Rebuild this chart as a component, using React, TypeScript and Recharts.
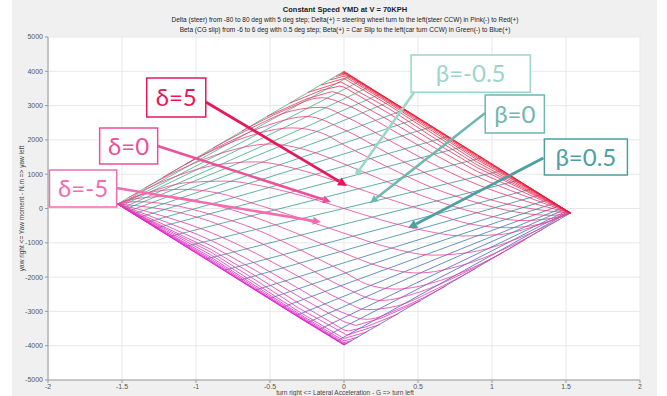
import React from 'react'
import { LineChart, Line, XAxis, YAxis, CartesianGrid, ReferenceArea, ReferenceLine, Label } from 'recharts'

const xTicks = [-2, -1.5, -1, -0.5, 0, 0.5, 1, 1.5, 2]
const yTicks = [-5000, -4000, -3000, -2000, -1000, 0, 1000, 2000, 3000, 4000, 5000]

// steering angle of each constant-delta curve (deg), pink(-) to red(+)
const deltaSteps = [-80, -75, -70, -65, -60, -55, -50, -45, -40, -35, -30, -25, -20, -15, -10, -5, 0,
  5, 10, 15, 20, 25, 30, 35, 40, 45, 50, 55, 60, 65, 70, 75, 80]

// constant-delta curves as [lateral acc G, yaw moment N.m]
const deltaCurves: number[][][] = [
  [[-1.53, 130], [-1.2, -760], [-0.9, -1570], [-0.6, -2380], [-0.3, -3190], [0, -3980]],
  [[-1.53, 130], [-1.2, -755], [-0.9, -1558], [-0.6, -2372], [-0.3, -3182], [0, -3975], [0.006, -3970]],
  [[-1.53, 130], [-1.2, -745], [-0.9, -1540], [-0.6, -2360], [-0.3, -3170], [0, -3965], [0.015, -3945]],
  [[-1.53, 130], [-1.2, -730], [-0.9, -1510], [-0.6, -2340], [-0.3, -3150], [0, -3945], [0.031, -3905]],
  [[-1.53, 130], [-1.2, -710], [-0.9, -1470], [-0.6, -2300], [-0.3, -3120], [0, -3910], [0.054, -3850]],
  [[-1.53, 130], [-1.2, -690], [-0.9, -1420], [-0.6, -2250], [-0.3, -3080], [0, -3860], [0.092, -3750]],
  [[-1.53, 130], [-1.2, -650], [-0.9, -1350], [-0.6, -2180], [-0.3, -3020], [0, -3790], [0.153, -3600]],
  [[-1.53, 130], [-1.2, -610], [-0.9, -1270], [-0.6, -2080], [-0.3, -2920], [0.02, -3690], [0.245, -3381]],
  [[-1.53, 130], [-1.2, -570], [-0.9, -1190], [-0.6, -1960], [-0.3, -2780], [0, -3540], [0.03, -3570], [0.15, -3450], [0.367, -3071]],
  [[-1.53, 130], [-1.2, -500], [-0.9, -1080], [-0.6, -1800], [-0.3, -2580], [0, -3300], [0.08, -3410], [0.25, -3200], [0.52, -2684]],
  [[-1.53, 130], [-1.2, -400], [-0.9, -930], [-0.6, -1600], [-0.3, -2350], [0, -3050], [0.15, -3230], [0.4, -2870], [0.689, -2259]],
  [[-1.53, 130], [-1.2, -250], [-0.9, -700], [-0.6, -1300], [-0.3, -2000], [0, -2700], [0.15, -2950], [0.35, -2850], [0.6, -2400], [0.887, -1755]],
  [[-1.53, 130], [-1.4, 80], [-1.2, -40], [-0.9, -380], [-0.6, -930], [-0.3, -1600], [0, -2300], [0.25, -2680], [0.5, -2450], [0.8, -1900], [1.071, -1291]],
  [[-1.53, 130], [-1.4, 200], [-1.2, 130], [-0.9, -170], [-0.6, -600], [-0.3, -1200], [0, -1850], [0.15, -2200], [0.35, -2350], [0.65, -2100], [0.95, -1560], [1.224, -904]],
  [[-1.53, 130], [-1.4, 290], [-1.2, 350], [-0.9, 130], [-0.6, -260], [-0.3, -760], [0, -1300], [0.25, -1700], [0.5, -1880], [0.8, -1650], [1.1, -1150], [1.346, -594]],
  [[-1.53, 130], [-1.33, 450], [-1.1, 560], [-0.85, 450], [-0.6, 130], [-0.3, -280], [0, -720], [0.3, -1130], [0.6, -1360], [0.9, -1240], [1.2, -830], [1.454, -324]],
  [[-1.53, 130], [-1.3, 500], [-1.05, 760], [-0.8, 800], [-0.55, 650], [-0.25, 330], [0, 0], [0.25, -330], [0.55, -650], [0.8, -800], [1.05, -760], [1.3, -500], [1.53, -130]],
  [[-1.454, 324], [-1.2, 830], [-0.9, 1240], [-0.6, 1360], [-0.3, 1130], [0, 720], [0.3, 280], [0.6, -130], [0.85, -450], [1.1, -560], [1.33, -450], [1.53, -130]],
  [[-1.346, 594], [-1.1, 1150], [-0.8, 1650], [-0.5, 1880], [-0.25, 1700], [0, 1300], [0.3, 760], [0.6, 260], [0.9, -130], [1.2, -350], [1.4, -290], [1.53, -130]],
  [[-1.224, 904], [-0.95, 1560], [-0.65, 2100], [-0.35, 2350], [-0.15, 2200], [0, 1850], [0.3, 1200], [0.6, 600], [0.9, 170], [1.2, -130], [1.4, -200], [1.53, -130]],
  [[-1.071, 1291], [-0.8, 1900], [-0.5, 2450], [-0.25, 2680], [0, 2300], [0.3, 1600], [0.6, 930], [0.9, 380], [1.2, 40], [1.4, -80], [1.53, -130]],
  [[-0.887, 1755], [-0.6, 2400], [-0.35, 2850], [-0.15, 2950], [0, 2700], [0.3, 2000], [0.6, 1300], [0.9, 700], [1.2, 250], [1.53, -130]],
  [[-0.689, 2259], [-0.4, 2870], [-0.15, 3230], [0, 3050], [0.3, 2350], [0.6, 1600], [0.9, 930], [1.2, 400], [1.53, -130]],
  [[-0.52, 2684], [-0.25, 3200], [-0.08, 3410], [0, 3300], [0.3, 2580], [0.6, 1800], [0.9, 1080], [1.2, 500], [1.53, -130]],
  [[-0.367, 3071], [-0.15, 3450], [-0.03, 3570], [0, 3540], [0.3, 2780], [0.6, 1960], [0.9, 1190], [1.2, 570], [1.53, -130]],
  [[-0.245, 3381], [-0.02, 3690], [0.3, 2920], [0.6, 2080], [0.9, 1270], [1.2, 610], [1.53, -130]],
  [[-0.153, 3600], [0, 3790], [0.3, 3020], [0.6, 2180], [0.9, 1350], [1.2, 650], [1.53, -130]],
  [[-0.092, 3750], [0, 3860], [0.3, 3080], [0.6, 2250], [0.9, 1420], [1.2, 690], [1.53, -130]],
  [[-0.054, 3850], [0, 3910], [0.3, 3120], [0.6, 2300], [0.9, 1470], [1.2, 710], [1.53, -130]],
  [[-0.031, 3905], [0, 3945], [0.3, 3150], [0.6, 2340], [0.9, 1510], [1.2, 730], [1.53, -130]],
  [[-0.015, 3945], [0, 3965], [0.3, 3170], [0.6, 2360], [0.9, 1540], [1.2, 745], [1.53, -130]],
  [[-0.006, 3975], [0, 3980], [0.3, 3182], [0.6, 2372], [0.9, 1558], [1.2, 755], [1.53, -130]],
  [[0, 4000], [0.3, 3190], [0.6, 2380], [0.9, 1570], [1.2, 760], [1.53, -130]],
]

// body slip of each constant-beta line (deg), green(-) to blue(+)
const betaSteps = [-6, -5.5, -5, -4.5, -4, -3.5, -3, -2.5, -2, -1.5, -1, -0.5, 0,
  0.5, 1, 1.5, 2, 2.5, 3, 3.5, 4, 4.5, 5, 5.5, 6]

// each beta line starts on the lower-left edge and ends on the upper-right edge
const betaStartX = [-1.53, -1.522, -1.515, -1.507, -1.492, -1.476, -1.454, -1.423, -1.385, -1.331, -1.27, -1.178, -1.071,
  -0.933, -0.811, -0.704, -0.597, -0.505, -0.413, -0.321, -0.245, -0.168, -0.107, -0.046, 0]
const betaStartY = [130, 109, 89, 68, 27, -14, -76, -158, -260, -404, -569, -815, -1103,
  -1473, -1802, -2089, -2377, -2624, -2870, -3117, -3322, -3528, -3692, -3857, -3980]
const betaEndX = [0, 0.046, 0.107, 0.168, 0.245, 0.321, 0.413, 0.505, 0.597, 0.704, 0.811, 0.933, 1.071,
  1.178, 1.27, 1.331, 1.385, 1.423, 1.454, 1.476, 1.492, 1.507, 1.515, 1.522, 1.53]
const betaEndY = [4000, 3876, 3711, 3546, 3339, 3133, 2885, 2637, 2389, 2100, 1811, 1481, 1109,
  820, 572, 407, 262, 159, 77, 15, -27, -68, -89, -109, -130]

// callouts: text, box corners and arrow (from, to) in chart units
const callouts = [
  { text: 'δ=5', color: '#e8175d', box: [-1.333, -0.934, 2668, 3805], arrow: [-0.934, 3105, 0.02, 656], w: 2.8 },
  { text: 'δ=0', color: '#ee4f9a', box: [-1.651, -1.259, 1297, 2347], arrow: [-1.259, 1822, -0.088, 190], w: 2.5 },
  { text: 'δ=-5', color: '#f26cb2', box: [-1.99, -1.536, 44, 1122], arrow: [-1.536, 598, -0.156, -394], w: 2.5 },
  { text: 'β=-0.5', color: '#9ad6c9', box: [0.453, 1.259, 3390, 4475], arrow: [0.474, 3390, 0.074, 948], w: 2.5 },
  { text: 'β=0', color: '#6fb7b1', box: [0.954, 1.354, 2201, 3309], arrow: [0.954, 2784, 0.176, 160], w: 2.5 },
  { text: 'β=0.5', color: '#4d9fa1', box: [1.354, 1.915, 977, 2026], arrow: [1.347, 1472, 0.433, -569], w: 2.8 },
]

const mix = (a: number[], b: number[], f: number) =>
  `rgb(${a.map((v, k) => Math.round(v + (b[k] - v) * f)).join(',')})`

const deltaColor = (i: number) => {
  const f = (2 * i) / (deltaSteps.length - 1)
  return f <= 1 ? mix([222, 30, 210], [232, 70, 150], f) : mix([232, 70, 150], [238, 20, 40], f - 1)
}

const betaColor = (j: number) => {
  const f = (2 * j) / (betaSteps.length - 1)
  return f <= 1 ? mix([70, 180, 110], [50, 150, 150], f) : mix([50, 150, 150], [70, 90, 200], f - 1)
}

const arrowShape = (color: string, width: number) => (p: any) => {
  const { x1, y1, x2, y2 } = p
  const a = Math.atan2(y2 - y1, x2 - x1)
  const h = 3.2 * width
  const bx = x2 - h * Math.cos(a)
  const by = y2 - h * Math.sin(a)
  const px = -Math.sin(a) * h * 0.5
  const py = Math.cos(a) * h * 0.5
  return (
    <g>
      <line x1={x1} y1={y1} x2={bx} y2={by} stroke={color} strokeWidth={width} />
      <polygon points={`${x2},${y2} ${bx + px},${by + py} ${bx - px},${by - py}`} fill={color} />
    </g>
  )
}

const tickStyle = { fontSize: 7, fill: '#555', fontFamily: 'Liberation Sans' }

export default function App() {
  return (
    <div style={{ position: 'absolute', left: 0, top: 0, width: 667, height: 396, background: '#fff', overflow: 'hidden' }}>
      <div style={{ position: 'absolute', left: 12, top: 0, width: 645, height: 396, background: '#f0f0f0' }} />
      <div style={{ position: 'absolute', left: 0, top: 5, width: 690, textAlign: 'center', fontFamily: 'Liberation Sans', color: '#222' }}>
        <div style={{ fontSize: 7.5, fontWeight: 'bold', lineHeight: '10px' }}>Constant Speed YMD at V = 70KPH</div>
        <div style={{ fontSize: 6.5, lineHeight: '10px' }}>
          Delta (steer) from -80 to 80 deg with 5 deg step; Delta(+) = steering wheel turn to the left(steer CCW) in Pink(-) to Red(+)
        </div>
        <div style={{ fontSize: 6.5, lineHeight: '9px' }}>
          Beta (CG slip) from -6 to 6 deg with 0.5 deg step; Beta(+) = Car Slip to the left(car turn CCW) in Green(-) to Blue(+)
        </div>
      </div>
      <div style={{ position: 'absolute', left: 0, top: 0 }}>
        <LineChart width={667} height={396} margin={{ top: 37, right: 27, left: 0, bottom: 0 }}>
          <CartesianGrid stroke="#e8e8e8" fill="#ffffff" />
          <XAxis
            type="number"
            dataKey="x"
            domain={[-2, 2]}
            ticks={xTicks}
            height={16}
            tick={tickStyle}
            tickSize={3}
            tickMargin={1}
            stroke="#9a9a9a"
            allowDataOverflow
          />
          <YAxis
            type="number"
            dataKey="y"
            domain={[-5000, 5000]}
            ticks={yTicks}
            width={48}
            tick={tickStyle}
            tickSize={3}
            tickMargin={2}
            stroke="#9a9a9a"
            allowDataOverflow
          >
            <Label
              value="yaw right <= Yaw moment - N.m => yaw left"
              angle={-90}
              position="insideLeft"
              offset={22}
              style={{ textAnchor: 'middle', fontSize: 6.5, fill: '#444', fontFamily: 'Liberation Sans' }}
            />
          </YAxis>
          {betaSteps.map((b, j) => (
            <Line
              key={'b' + b}
              data={[
                { x: betaStartX[j], y: betaStartY[j] },
                { x: betaEndX[j], y: betaEndY[j] },
              ]}
              dataKey="y"
              type="linear"
              stroke={betaColor(j)}
              strokeWidth={0.8}
              dot={false}
              activeDot={false}
              isAnimationActive={false}
            />
          ))}
          {deltaSteps.map((d, i) => (
            <Line
              key={'d' + d}
              data={deltaCurves[i].map(([x, y]) => ({ x, y }))}
              dataKey="y"
              type={Math.abs(d) <= 30 ? 'monotoneX' : 'linear'}
              stroke={deltaColor(i)}
              strokeWidth={0.8}
              dot={false}
              activeDot={false}
              isAnimationActive={false}
            />
          ))}
          {callouts.map((c) => (
            <ReferenceLine
              key={'a' + c.text}
              segment={[{ x: c.arrow[0], y: c.arrow[1] }, { x: c.arrow[2], y: c.arrow[3] }]}
              shape={arrowShape(c.color, c.w)}
              ifOverflow="visible"
            />
          ))}
          {callouts.map((c) => (
            <ReferenceArea
              key={'r' + c.text}
              x1={c.box[0]}
              x2={c.box[1]}
              y1={c.box[2]}
              y2={c.box[3]}
              fill="#ffffff"
              fillOpacity={1}
              stroke={c.color}
              strokeWidth={1.5}
              ifOverflow="visible"
            >
              <Label value={c.text} position="center" fill={c.color} fontSize={24} fontFamily="Lato" />
            </ReferenceArea>
          ))}
        </LineChart>
      </div>
      <div style={{ position: 'absolute', left: 0, top: 389, width: 690, textAlign: 'center', fontSize: 6.5, color: '#444', fontFamily: 'Liberation Sans' }}>
        turn right &lt;= Lateral Acceleration - G =&gt; turn left
      </div>
    </div>
  )
}
